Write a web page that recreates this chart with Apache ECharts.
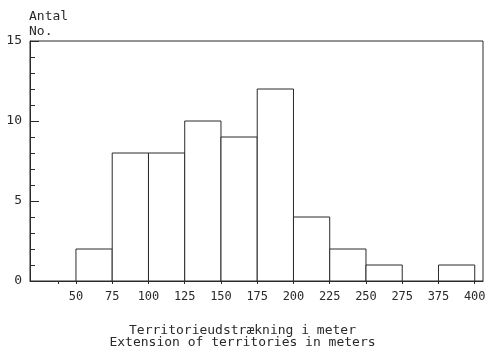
<!DOCTYPE html>
<html>
<head>
<meta charset="utf-8">
<script src="https://cdn.jsdelivr.net/npm/echarts@6/dist/echarts.min.js"></script>
<style>
  html, body { margin: 0; padding: 0; background: #fff; }
  #chart { width: 485px; height: 353px; }
</style>
</head>
<body>
<div id="chart"></div>
<script>
// histogram bins (meters) and counts
var binStart = [50, 75, 100, 125, 150, 175, 200, 225, 250, 375];
var binEnd   = [75, 100, 125, 150, 175, 200, 225, 250, 275, 400];
var counts   = [2, 8, 8, 10, 9, 12, 4, 2, 1, 1];
// labels under the x axis (axis is broken between 275 and 375)
var tickLabels = [50, 75, 100, 125, 150, 175, 200, 225, 250, 275, 375, 400];
var minorTicks = [37.5];

var GAP = 75; // 275..375 is squeezed out of the axis
function toAxis(v) { return v > 275 ? v - GAP : v; }
function fromAxis(v) { return v > 275 ? v + GAP : v; }

var FONT = 'DejaVu Sans Mono';
var INK = '#2a2a2a';

var bars = [];
for (var i = 0; i < counts.length; i++) {
    bars.push([toAxis(binStart[i]), toAxis(binEnd[i]), counts[i]]);
}
var labelVals = tickLabels.map(toAxis);

var chart = echarts.init(document.getElementById('chart'));
var option = {
    animation: false,
    grid: {
        left: 30, right: 2, top: 41, bottom: 72,
        outerBoundsMode: 'none',
        show: true, borderColor: INK, borderWidth: 1
    },
    xAxis: {
        type: 'value',
        min: 18.3,
        max: 330.7,
        splitLine: { show: false },
        axisLine: { lineStyle: { color: INK, width: 1 } },
        axisTick: {
            customValues: minorTicks.concat(labelVals),
            length: 3,
            lineStyle: { color: INK }
        },
        axisLabel: {
            customValues: labelVals,
            formatter: function (v) { return String(fromAxis(v)); },
            color: INK, fontFamily: FONT, fontSize: 12, margin: 10
        }
    },
    yAxis: {
        type: 'value',
        min: 0, max: 15, interval: 5,
        splitLine: { show: false },
        axisLine: { show: true, lineStyle: { color: INK, width: 1 } },
        axisTick: { show: true, inside: true, length: 9, lineStyle: { color: INK } },
        minorTick: { show: true, splitNumber: 5, length: 5, lineStyle: { color: INK } },
        axisLabel: { color: INK, fontFamily: FONT, fontSize: 13, margin: 8 }
    },
    graphic: [
        { type: 'text', left: 29, top: 10, style: { text: 'Antal', font: '13px ' + FONT, fill: INK } },
        { type: 'text', left: 29, top: 25, style: { text: 'No.', font: '13px ' + FONT, fill: INK } },
        { type: 'text', left: 'center', top: 324, style: { text: 'Territorieudstrækning i meter', font: '13px ' + FONT, fill: INK, textAlign: 'center' } },
        { type: 'text', left: 'center', top: 336, style: { text: 'Extension of territories in meters', font: '13px ' + FONT, fill: INK, textAlign: 'center' } }
    ],
    series: [{
        type: 'custom',
        data: bars,
        encode: { x: [0, 1], y: 2 },
        renderItem: function (params, api) {
            var p0 = api.coord([api.value(0), api.value(2)]);
            var p1 = api.coord([api.value(1), 0]);
            return {
                type: 'rect',
                shape: { x: p0[0], y: p0[1], width: p1[0] - p0[0], height: p1[1] - p0[1] },
                style: { fill: '#fff', stroke: INK, lineWidth: 1 }
            };
        }
    }]
};
chart.setOption(option);
</script>
</body>
</html>
